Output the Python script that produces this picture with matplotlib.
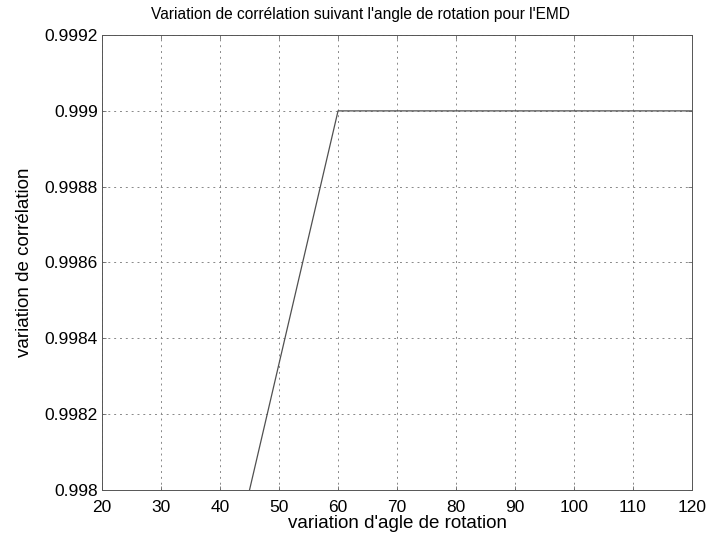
import matplotlib
matplotlib.use('Agg')
import matplotlib.pyplot as plt

# angle de rotation vs correlation
angles = [45, 60, 75, 90, 105, 120]
correlation = [0.9980, 0.9990, 0.9990, 0.9990, 0.9990, 0.9990]
x_ticks = [20, 30, 40, 50, 60, 70, 80, 90, 100, 110, 120]
y_ticks = [0.998, 0.9982, 0.9984, 0.9986, 0.9988, 0.999, 0.9992]
y_labels = ['0.998', '0.9982', '0.9984', '0.9986', '0.9988', '0.999', '0.9992']

plt.rcParams['font.family'] = ['Liberation Sans', 'DejaVu Sans']

fig = plt.figure(figsize=(7.09, 5.40), dpi=100)
ax = fig.add_axes([0.144, 0.093, 0.832, 0.842])

ax.plot(angles, correlation, color='#505050', linewidth=0.9)

ax.set_xlim(20, 120)
ax.set_ylim(0.998, 0.9992)
ax.set_xticks(x_ticks)
ax.set_yticks(y_ticks)
ax.set_yticklabels(y_labels)
ax.tick_params(direction='in', length=3, width=0.6, labelsize=12.5,
               top=True, right=True, colors='#666666', labelcolor='black')
ax.tick_params(axis='x', pad=7)
ax.tick_params(axis='y', pad=3)
ax.grid(True, linestyle=(0, (2, 4)), color='#888888', linewidth=0.7)
for s in ax.spines.values():
    s.set_linewidth(0.7)
    s.set_color('#555555')

# title in the reference is offset to the left of the axes centre
fig.text(360 / 709, 1 - 14 / 540, "Variation de corrélation suivant l'angle de rotation pour l'EMD",
         fontsize=11.2, ha='center', va='center')
ax.set_xlabel("variation d'agle de rotation", fontsize=13.5, labelpad=0)
ax.set_ylabel("variation de corrélation", fontsize=13.5, labelpad=8)

fig.savefig('out.png', dpi=100)
